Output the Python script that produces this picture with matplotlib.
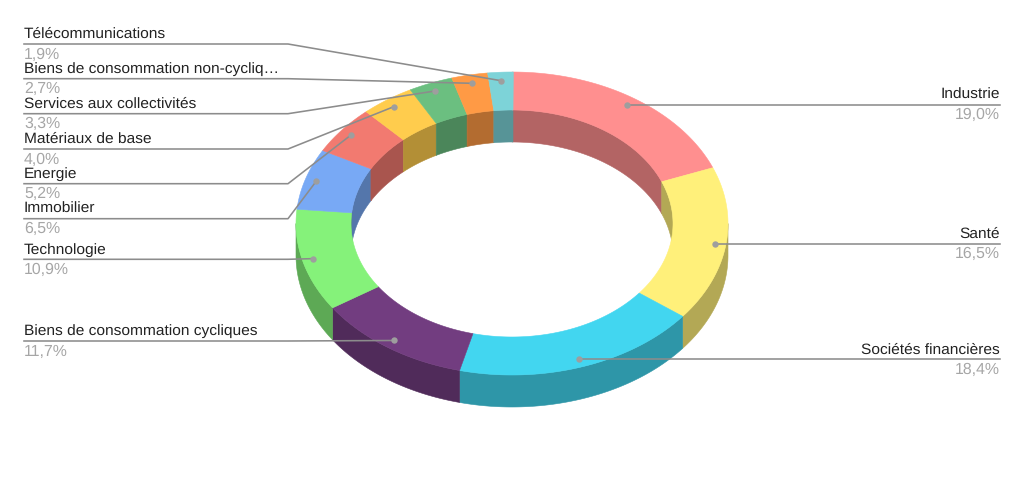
import numpy as np
import matplotlib
matplotlib.use("Agg")
import matplotlib.pyplot as plt

labels = ["Industrie", "Santé", "Sociétés financières",
          "Biens de consommation cycliques", "Technologie", "Immobilier",
          "Energie", "Matériaux de base", "Services aux collectivités",
          "Biens de consommation non-cycliq…", "Télécommunications"]
values = [19.0, 16.5, 18.4, 11.7, 10.9, 6.5, 5.2, 4.0, 3.3, 2.7, 1.9]
colors = ["#FF8F8F", "#FFF07A", "#42D6F0", "#723D80", "#85F27A", "#78A9F5",
          "#F27A70", "#FFCC4D", "#6BBF80", "#FF9A45", "#7DD3D8"]

# y of each label's leader line, in pixels
label_y = [104.7, 243.7, 359.3, 341, 259.3, 218.7, 183.7, 149, 113.7, 78.7, 44]

# geometry of the ring, in pixels
CX, CY = 512, 223.5
OUT_X, OUT_Y = 216, 151.5
IN_X, IN_Y = 161, 113.5
DOT_X, DOT_Y = 205, 143
DEPTH = 32
ELBOW = 288
LEFT, RIGHT = 24, 1000

plt.rcParams["font.family"] = ["Liberation Sans", "DejaVu Sans"]
plt.rcParams["text.hinting"] = "none"


def darker(color, k=0.7):
    rgb = matplotlib.colors.to_rgb(color)
    return tuple(c * k for c in rgb)


def arc(a, b, rx, ry, dy=0):
    t = np.radians(np.linspace(a, b, 100))
    return CX + rx * np.sin(t), CY - ry * np.cos(t) + dy


def wall(ax, a, b, rx, ry, color):
    x, y = arc(a, b, rx, ry)
    x2, y2 = arc(b, a, rx, ry, DEPTH)
    ax.fill(np.r_[x, x2], np.r_[y, y2], color=color, lw=0.4)


fig = plt.figure(figsize=(10.24, 4.8), dpi=100)
ax = fig.add_axes([0, 0, 1, 1])
ax.set_xlim(0, 1024)
ax.set_ylim(480, 0)
ax.axis("off")

edges = np.r_[0, np.cumsum(values)] * 3.6

# outer side, only the front half shows
for i, c in enumerate(colors):
    a, b = max(edges[i], 90), min(edges[i + 1], 270)
    if a < b:
        wall(ax, a, b, OUT_X, OUT_Y, darker(c))

# inner side, only the back half shows
for i, c in enumerate(colors):
    a, b = edges[i], min(edges[i + 1], 90)
    if a < b:
        wall(ax, a, b, IN_X, IN_Y, darker(c))
    a, b = max(edges[i], 270), edges[i + 1]
    if a < b:
        wall(ax, a, b, IN_X, IN_Y, darker(c))

# top face
for i, c in enumerate(colors):
    x, y = arc(edges[i], edges[i + 1], OUT_X, OUT_Y)
    x2, y2 = arc(edges[i + 1], edges[i], IN_X, IN_Y)
    ax.fill(np.r_[x, x2], np.r_[y, y2], color=c, lw=0.4)

# leaders and labels
for i, name in enumerate(labels):
    mid = np.radians((edges[i] + edges[i + 1]) / 2)
    dx = CX + DOT_X * np.sin(mid)
    dy = CY - DOT_Y * np.cos(mid)
    ly = label_y[i]
    pct = f"{values[i]:.1f}%".replace(".", ",")
    if dx > CX and mid < np.pi:
        xs, ys = [dx, RIGHT], [ly, ly]
        tx, ha = RIGHT, "right"
    else:
        xs, ys = [LEFT, ELBOW, dx], [ly, ly, dy]
        tx, ha = LEFT, "left"
    ax.plot(xs, ys, color="#8c8c8c", lw=1.15, solid_joinstyle="round")
    ax.plot([dx], [dy], "o", color="#9e9e9e", ms=4.6, mew=0)
    ax.text(tx, ly - 5.7, name, ha=ha, va="baseline", fontsize=11.15, color="#222222")
    ax.text(tx, ly + 14.7, pct, ha=ha, va="baseline", fontsize=11.4, color="#a6a6a6")

fig.savefig("out.png", dpi=100)
